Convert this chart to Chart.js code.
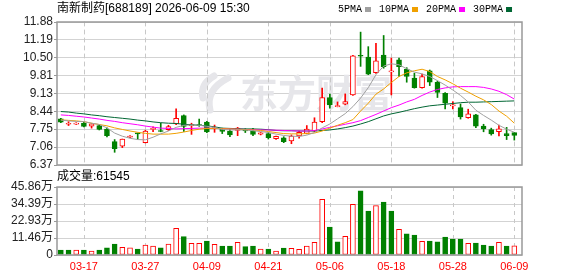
<!DOCTYPE html>
<html>
<head>
<meta charset="utf-8">
<script src="https://cdn.jsdelivr.net/npm/chart.js@4.4.1/dist/chart.umd.min.js"></script>
<style>
  html, body { margin: 0; padding: 0; background: #fff; }
  #wrap { position: relative; width: 578px; height: 276px; }
  #wrap canvas { position: absolute; left: 0; top: 0; }
</style>
</head>
<body>
<div id="wrap">
  <canvas id="priceChart" width="578" height="276"></canvas>
  <canvas id="volChart" width="578" height="276"></canvas>
</div>
<script>
const stockName = "南新制药[688189]";
const stamp = "2026-06-09 15:30";

const dates = [
  "03-12", "03-13", "03-16", "03-17", "03-18", "03-19", "03-20", "03-23", "03-24", "03-25",
  "03-26", "03-27", "03-30", "03-31", "04-01", "04-02", "04-03", "04-07", "04-08", "04-09",
  "04-10", "04-13", "04-14", "04-15", "04-16", "04-17", "04-20", "04-21", "04-22", "04-23",
  "04-24", "04-27", "04-28", "04-29", "04-30", "05-06", "05-07", "05-08", "05-11", "05-12",
  "05-13", "05-14", "05-15", "05-18", "05-19", "05-20", "05-21", "05-22", "05-25", "05-26",
  "05-27", "05-28", "05-29", "06-01", "06-02", "06-03", "06-04", "06-05", "06-08", "06-09"
];
const labelIdx = [3, 11, 19, 27, 35, 43, 51, 59];

const openP = [
  8.15, 7.94, 7.94, 7.98, 7.87, 7.89, 7.75, 7.27, 7.10, 7.44,
  7.59, 7.23, 7.74, 7.70, 7.73, 7.95, 8.27, 7.89, 7.93, 8.02,
  7.77, 7.74, 7.68, 7.70, 7.74, 7.68, 7.56, 7.58, 7.38, 7.42,
  7.30, 7.49, 7.59, 7.68, 8.04, 8.97, 8.62, 8.71, 9.07, 10.60,
  10.53, 9.93, 10.61, 9.96, 10.42, 10.07, 9.72, 9.35, 10.00, 9.56,
  9.13, 8.65, 8.58, 8.19, 8.30, 7.87, 7.73, 7.65, 7.58, 7.62
];
const highP = [
  8.17, 8.04, 8.00, 8.01, 7.97, 7.92, 7.80, 7.35, 7.37, 7.50,
  7.60, 7.71, 7.84, 7.98, 7.90, 8.53, 8.30, 7.98, 8.14, 8.05,
  7.91, 7.79, 7.75, 7.82, 7.77, 7.78, 7.62, 7.63, 7.48, 7.46,
  7.53, 7.68, 7.89, 8.19, 9.33, 9.10, 8.80, 9.11, 10.60, 11.49,
  10.93, 11.06, 11.36, 10.49, 10.49, 10.12, 9.91, 9.87, 10.03, 9.60,
  9.16, 8.81, 8.72, 8.52, 8.32, 7.94, 7.79, 7.91, 7.82, 7.63
];
const lowP = [
  8.00, 7.89, 7.93, 7.84, 7.79, 7.72, 7.45, 6.86, 7.04, 7.42,
  7.36, 7.22, 7.65, 7.65, 7.70, 7.92, 7.66, 7.55, 7.86, 7.62,
  7.63, 7.58, 7.46, 7.50, 7.62, 7.50, 7.53, 7.37, 7.36, 7.23,
  7.19, 7.40, 7.57, 7.66, 8.00, 8.56, 8.61, 8.69, 9.05, 10.17,
  9.85, 9.90, 10.10, 9.07, 9.78, 9.56, 9.33, 9.33, 9.43, 8.97,
  8.53, 8.53, 8.14, 8.17, 7.81, 7.65, 7.52, 7.49, 7.35, 7.33
];
const closeP = [
  8.02, 7.96, 7.99, 7.86, 7.96, 7.74, 7.50, 7.00, 7.37, 7.48,
  7.57, 7.68, 7.78, 7.66, 7.85, 8.17, 7.86, 7.92, 7.89, 7.64,
  7.79, 7.66, 7.53, 7.79, 7.68, 7.55, 7.61, 7.42, 7.47, 7.27,
  7.48, 7.63, 7.75, 8.02, 8.97, 8.69, 8.64, 8.81, 10.58, 10.56,
  9.87, 10.38, 10.16, 9.98, 10.16, 9.78, 9.35, 9.78, 9.56, 9.17,
  8.75, 8.67, 8.22, 8.34, 7.87, 7.76, 7.57, 7.76, 7.50, 7.51
];

const ma5 = [
  8.10, 8.07, 8.05, 8.04, 7.98, 7.93, 7.80, 7.60, 7.48, 7.40,
  7.35, 7.34, 7.44, 7.57, 7.68, 7.82, 7.90, 7.91, 7.90, 7.86,
  7.82, 7.74, 7.72, 7.72, 7.72, 7.69, 7.66, 7.62, 7.56, 7.51,
  7.48, 7.47, 7.52, 7.62, 7.80, 7.95, 8.15, 8.35, 8.62, 8.95,
  9.35, 9.85, 10.18, 10.27, 10.23, 10.08, 9.95, 9.88, 9.78, 9.62,
  9.45, 9.26, 9.05, 8.80, 8.48, 8.28, 8.10, 7.90, 7.75, 7.63
];
const ma10 = [
  8.11, 8.09, 8.07, 8.04, 7.98, 7.93, 7.88, 7.80, 7.74, 7.68,
  7.63, 7.59, 7.56, 7.56, 7.56, 7.59, 7.64, 7.70, 7.75, 7.78,
  7.78, 7.77, 7.76, 7.75, 7.73, 7.72, 7.70, 7.66, 7.62, 7.58,
  7.57, 7.57, 7.58, 7.60, 7.68, 7.79, 7.90, 8.00, 8.12, 8.45,
  8.75, 9.10, 9.30, 9.55, 9.78, 9.92, 10.00, 10.06, 9.97, 9.78,
  9.65, 9.50, 9.33, 9.18, 9.02, 8.88, 8.70, 8.45, 8.25, 7.98
];
const ma20 = [
  8.30, 8.28, 8.25, 8.22, 8.18, 8.14, 8.09, 8.05, 8.00, 7.96,
  7.92, 7.87, 7.83, 7.79, 7.78, 7.76, 7.77, 7.78, 7.79, 7.79,
  7.78, 7.77, 7.76, 7.75, 7.74, 7.73, 7.72, 7.72, 7.71, 7.70,
  7.69, 7.68, 7.68, 7.70, 7.76, 7.82, 7.88, 7.94, 8.00, 8.08,
  8.20, 8.32, 8.45, 8.58, 8.68, 8.80, 8.90, 9.05, 9.18, 9.28,
  9.34, 9.38, 9.39, 9.39, 9.39, 9.36, 9.30, 9.21, 9.08, 8.91
];
const ma30 = [
  8.43, 8.41, 8.37, 8.34, 8.30, 8.27, 8.23, 8.20, 8.17, 8.14,
  8.10, 8.07, 8.03, 8.00, 7.98, 7.97, 7.94, 7.92, 7.90, 7.88,
  7.84, 7.79, 7.78, 7.77, 7.76, 7.76, 7.75, 7.73, 7.70, 7.69,
  7.69, 7.68, 7.68, 7.68, 7.70, 7.72, 7.76, 7.81, 7.87, 7.95,
  8.04, 8.15, 8.26, 8.34, 8.40, 8.47, 8.54, 8.60, 8.65, 8.68,
  8.71, 8.74, 8.77, 8.79, 8.79, 8.80, 8.81, 8.82, 8.83, 8.84
];

const volume = [
  33700, 33700, 33700, 33700, 27000, 33700, 49000, 74000, 52000, 49000,
  40000, 67000, 61000, 49000, 74000, 180000, 124000, 79000, 79000, 94000,
  72000, 61000, 61000, 85000, 56000, 61000, 40000, 40000, 27000, 47000,
  45000, 38000, 61000, 85000, 376000, 189000, 88000, 126000, 342000, 432000,
  297000, 333000, 357000, 297000, 173000, 142000, 135000, 92000, 94000, 88000,
  121000, 108000, 108000, 79000, 81000, 67000, 61000, 85000, 61000, 61545
];
// 1 = red (up) bar, 0 = green
const volUp = [
  0, 0, 1, 0, 1, 0, 0, 0, 1, 1,
  0, 1, 1, 0, 1, 1, 0, 1, 1, 0,
  1, 0, 0, 1, 0, 0, 1, 0, 1, 0,
  1, 1, 1, 1, 1, 0, 0, 1, 1, 0,
  0, 1, 0, 0, 1, 0, 0, 1, 0, 0,
  0, 0, 0, 1, 0, 0, 0, 1, 0, 1
];

const priceTicks = ["6.37", "7.06", "7.75", "8.44", "9.13", "9.81", "10.50", "11.19", "11.88"];
const volTicks = [0, 114650, 229300, 343950, 458600];
const volTickLabels = ["0", "11.46万", "22.93万", "34.39万", "45.86万"];

const maNames = ["5PMA", "10PMA", "20PMA", "30PMA"];
const maColors = ["#a0a0a0", "#f0a000", "#ff00ff", "#006633"];

const RED = "#ff0000";
const GREEN = "#008000";
const AXIS_FONT = { family: "'Liberation Sans', 'Noto Sans CJK SC', sans-serif", size: 12 };

const isUp = closeP.map((c, i) => c >= openP[i]);

// shared x axis: one slot per trading day
const xAxis = {
  type: "linear",
  min: -0.5,
  max: 60,
  offset: false,
  afterBuildTicks: scale => { scale.ticks = labelIdx.map(v => ({ value: v })); }
};

// dashed day lines, watermark, frame and texts
const deco = {
  id: "deco",
  beforeDatasetsDraw(chart, args, opts) {
    const { ctx, chartArea: a, scales: { x } } = chart;
    ctx.save();
    if (opts.watermark) {
      ctx.fillStyle = "#e6e6ea";
      ctx.strokeStyle = "#e6e6ea";
      ctx.lineWidth = 7;
      ctx.lineCap = "round";
      ctx.beginPath();
      ctx.moveTo(228, 78);
      ctx.quadraticCurveTo(205, 90, 210, 110);
      ctx.stroke();
      ctx.beginPath();
      ctx.moveTo(214, 76);
      ctx.quadraticCurveTo(200, 84, 203, 98);
      ctx.stroke();
      ctx.font = "bold 38px 'Noto Sans CJK SC'";
      ctx.textBaseline = "middle";
      ctx.fillText("东方财富", 240, 93);
    }
    ctx.strokeStyle = "#c8c8c8";
    ctx.lineWidth = 1;
    ctx.setLineDash([4, 4]);
    labelIdx.forEach(i => {
      const px = Math.round(x.getPixelForValue(i)) + 0.5;
      ctx.beginPath();
      ctx.moveTo(px, a.top);
      ctx.lineTo(px, a.bottom);
      ctx.stroke();
    });
    ctx.restore();
  },
  afterDraw(chart, args, opts) {
    const { ctx, chartArea: a } = chart;
    ctx.save();
    ctx.strokeStyle = "#999";
    ctx.lineWidth = 1.5;
    ctx.strokeRect(a.left, a.top, a.right - a.left, a.bottom - a.top);
    ctx.fillStyle = "#000";
    ctx.textBaseline = "middle";
    ctx.font = "12px 'Liberation Sans', 'Noto Sans CJK SC'";
    if (opts.title) ctx.fillText(opts.title, a.left, opts.titleY);
    if (opts.legend) {
      ctx.font = "10px 'Liberation Mono'";
      let cx = 338;
      maNames.forEach((n, i) => {
        ctx.fillStyle = "#000";
        ctx.fillText(n, cx, 9);
        cx += ctx.measureText(n).width + 3;
        ctx.fillStyle = maColors[i];
        ctx.fillRect(cx, 7, 6, 5);
        cx += 14;
      });
    }
    ctx.restore();
  }
};

const maSets = [ma5, ma10, ma20, ma30].map((ma, k) => ({
  type: "line",
  data: ma.map((v, i) => ({ x: i, y: v })),
  borderColor: maColors[k],
  order: 0
}));

const priceChart = new Chart(document.getElementById("priceChart"), {
  type: "bar",
  data: {
    datasets: [
      ...maSets,
      {
        data: openP.map((o, i) => ({ x: i, y: [o, closeP[i]] })),
        backgroundColor: isUp.map(u => u ? "#fff" : GREEN),
        borderColor: isUp.map(u => u ? RED : GREEN),
        borderWidth: 1,
        borderSkipped: false,
        barThickness: 5,
        minBarLength: 1,
        grouped: false,
        order: 1
      },
      {
        data: lowP.map((l, i) => ({ x: i, y: [l, highP[i]] })),
        backgroundColor: isUp.map(u => u ? RED : GREEN),
        barThickness: 1,
        grouped: false,
        order: 2
      }
    ]
  },
  options: {
    responsive: false,
    animation: false,
    devicePixelRatio: 1,
    layout: { padding: { left: 0, top: 22, right: 56, bottom: 111 } },
    elements: {
      line: { borderWidth: 1, tension: 0 },
      point: { radius: 0 }
    },
    plugins: {
      legend: { display: false },
      tooltip: { enabled: false },
      deco: { watermark: true, title: stockName + " " + stamp, titleY: 9, legend: true }
    },
    scales: {
      x: { ...xAxis, display: false },
      y: {
        min: 6.37,
        max: 11.88,
        afterBuildTicks: scale => { scale.ticks = priceTicks.map(t => ({ value: parseFloat(t) })); },
        afterFit: scale => { scale.width = 57; },
        ticks: {
          callback: (v, i) => priceTicks[i],
          color: "#222",
          font: AXIS_FONT,
          padding: 1,
          autoSkip: false
        },
        grid: { color: "#d3d3d3", tickLength: 3, tickColor: "#999" },
        border: { display: false }
      }
    }
  },
  plugins: [deco]
});

const volChart = new Chart(document.getElementById("volChart"), {
  type: "bar",
  data: {
    datasets: [{
      data: volume.map((v, i) => ({ x: i, y: v })),
      backgroundColor: volUp.map(u => u ? "#fff" : GREEN),
      borderColor: volUp.map(u => u ? RED : GREEN),
      borderWidth: 1,
      borderSkipped: false,
      barThickness: 5
    }]
  },
  options: {
    responsive: false,
    animation: false,
    devicePixelRatio: 1,
    layout: { padding: { left: 0, top: 187, right: 56, bottom: 0 } },
    plugins: {
      legend: { display: false },
      tooltip: { enabled: false },
      deco: { title: "成交量:" + volume[volume.length - 1], titleY: 177 }
    },
    scales: {
      x: {
        ...xAxis,
        afterFit: scale => { scale.height = 21; },
        ticks: {
          callback: v => dates[v],
          color: RED,
          font: { family: "'Liberation Sans', sans-serif", size: 11 },
          padding: 5,
          autoSkip: false,
          maxRotation: 0,
          minRotation: 0
        },
        grid: { display: false, drawTicks: false },
        border: { display: false }
      },
      y: {
        min: 0,
        max: 458600,
        afterBuildTicks: scale => { scale.ticks = volTicks.map(v => ({ value: v })); },
        afterFit: scale => { scale.width = 57; },
        ticks: {
          callback: (v, i) => volTickLabels[i],
          color: "#222",
          font: AXIS_FONT,
          padding: 1,
          autoSkip: false
        },
        grid: { color: "#d3d3d3", tickLength: 3, tickColor: "#999" },
        border: { display: false }
      }
    }
  },
  plugins: [deco]
});
</script>
</body>
</html>
